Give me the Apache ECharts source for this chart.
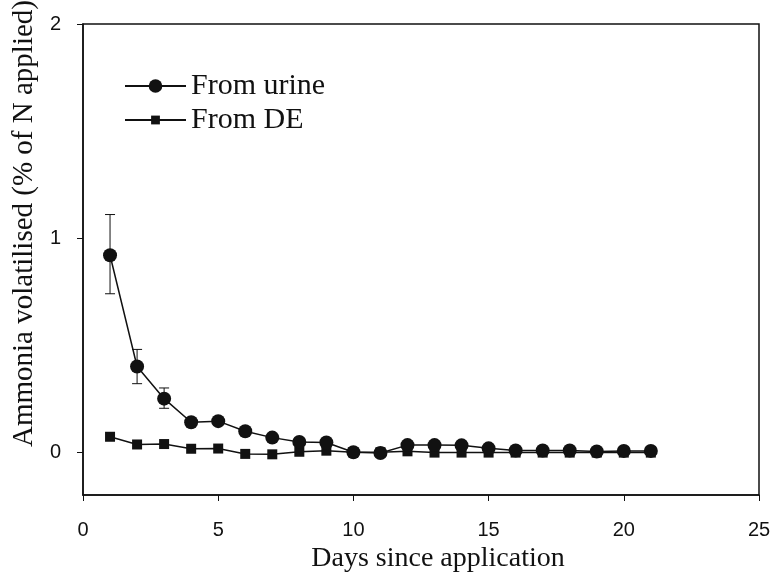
<!DOCTYPE html>
<html>
<head>
<meta charset="utf-8">
<script src="https://cdn.jsdelivr.net/npm/echarts@6/dist/echarts.min.js"></script>
<style>
  html, body { margin: 0; padding: 0; background: #fff; }
  #chart { width: 775px; height: 578px; }
</style>
</head>
<body>
<div id="chart"></div>
<script>
// days 1..21
var days = [1, 2, 3, 4, 5, 6, 7, 8, 9, 10, 11, 12, 13, 14, 15, 16, 17, 18, 19, 20, 21];
var urine = [0.92, 0.40, 0.25, 0.14, 0.145, 0.098, 0.068, 0.048, 0.045, 0.0, -0.004, 0.033, 0.033, 0.032, 0.018, 0.008, 0.008, 0.008, 0.003, 0.006, 0.006];
var dung = [0.072, 0.036, 0.038, 0.016, 0.017, -0.008, -0.01, 0.002, 0.007, 0.0, 0.0, 0.004, -0.002, -0.002, -0.002, -0.002, -0.002, -0.002, -0.002, -0.002, -0.002];
// error bars (low, high) for the urine series
var errDays = [1, 2, 3];
var errLow = [0.74, 0.32, 0.205];
var errHigh = [1.11, 0.48, 0.30];
var yTicks = [0, 1, 2];

var ink = '#111111';
var serif = '"Liberation Serif", "Times New Roman", serif';
var sans = '"Liberation Sans", Arial, sans-serif';

function pairs(xs, ys) {
  return xs.map(function (x, i) { return [x, ys[i]]; });
}

var chart = echarts.init(document.getElementById('chart'));
chart.setOption({
  animation: false,
  grid: {
    left: 83, right: 16, top: 24, bottom: 83,
    outerBoundsMode: 'none',
    show: true, borderColor: ink, borderWidth: 1.5
  },
  legend: [{
    data: ['From urine'],
    left: 119, top: 66,
    itemWidth: 61, itemHeight: 17,
    textStyle: { fontFamily: serif, fontSize: 30, color: ink }
  }, {
    data: ['From DE'],
    left: 119, top: 100,
    itemWidth: 61, itemHeight: 11,
    textStyle: { fontFamily: serif, fontSize: 30, color: ink }
  }],
  xAxis: {
    type: 'value', min: 0, max: 25, interval: 5,
    name: 'Days since application',
    nameLocation: 'middle', nameGap: 48,
    nameTextStyle: { fontFamily: serif, fontSize: 28, color: ink, padding: [0, 0, 0, 34] },
    axisLine: { onZero: false, lineStyle: { color: ink, width: 1.5 } },
    axisTick: { show: true, length: 6, lineStyle: { color: ink, width: 1 } },
    axisLabel: { fontFamily: sans, fontSize: 20, color: ink, margin: 25 },
    splitLine: { show: false }
  },
  yAxis: {
    type: 'value', min: -0.2, max: 2,
    name: 'Ammonia volatilised (% of N applied)',
    nameLocation: 'middle', nameGap: 42,
    nameTextStyle: { fontFamily: serif, fontSize: 29, color: ink, padding: [0, 0, 0, 72] },
    axisLine: { onZero: false, lineStyle: { color: ink, width: 1.5 } },
    axisTick: { show: true, length: 6, customValues: yTicks, lineStyle: { color: ink, width: 1 } },
    axisLabel: { fontFamily: sans, fontSize: 20, color: ink, margin: 22, customValues: yTicks },
    splitLine: { show: false }
  },
  series: [{
    name: 'From DE',
    type: 'line',
    data: pairs(days, dung),
    symbol: 'rect', symbolSize: 10,
    itemStyle: { color: ink },
    lineStyle: { color: ink, width: 1.5 },
    z: 2
  }, {
    name: 'errors',
    type: 'custom',
    data: errDays.map(function (d, i) { return [d, errLow[i], errHigh[i]]; }),
    renderItem: function (params, api) {
      var lo = api.coord([api.value(0), api.value(1)]);
      var hi = api.coord([api.value(0), api.value(2)]);
      var w = 5;
      var st = { stroke: ink, lineWidth: 1 };
      return {
        type: 'group',
        children: [
          { type: 'line', shape: { x1: lo[0], y1: lo[1], x2: hi[0], y2: hi[1] }, style: st },
          { type: 'line', shape: { x1: lo[0] - w, y1: lo[1], x2: lo[0] + w, y2: lo[1] }, style: st },
          { type: 'line', shape: { x1: hi[0] - w, y1: hi[1], x2: hi[0] + w, y2: hi[1] }, style: st }
        ]
      };
    },
    z: 3
  }, {
    name: 'From urine',
    type: 'line',
    data: pairs(days, urine),
    symbol: 'circle', symbolSize: 14,
    itemStyle: { color: ink },
    lineStyle: { color: ink, width: 1.5 },
    z: 4
  }]
});
</script>
</body>
</html>
